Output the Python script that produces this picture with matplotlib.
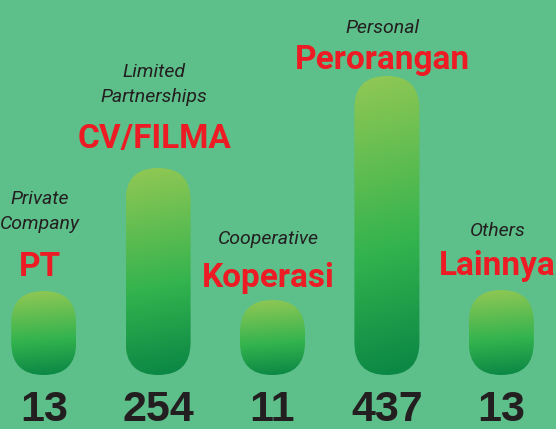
import numpy as np
import matplotlib
matplotlib.use('Agg')
import matplotlib.pyplot as plt
from matplotlib.patches import FancyBboxPatch
from matplotlib.colors import LinearSegmentedColormap

# %% Data read off the infographic
names_id = ['PT', 'CV/FILMA', 'Koperasi', 'Perorangan', 'Lainnya']
names_en = ['Private\nCompany', 'Limited\nPartnerships', 'Cooperative', 'Personal', 'Others']
counts = [13, 254, 11, 437, 13]
# drawn pill lengths (the picture is not to scale)
bar_len = [84, 207, 75, 299, 85]

# %% Layout / styles
# gap (px) between pill top and red label baseline, and red -> italic baseline
gap_red = [15, 20, 13, 7, 15]
gap_en = [47, 46, 43, 36, 39]

bg = '#5dbf8a'
red = '#ed1c24'
ink = '#231f20'
label_font = ['Roboto', 'DejaVu Sans']
num_font = ['Liberation Sans', 'DejaVu Sans']
pill_cmap = LinearSegmentedColormap.from_list(
    'pill', [(0.0, '#0c8845'), (0.42, '#33b34e'), (1.0, '#8dc754')])

W, H = 556, 429
fig = plt.figure(figsize=(W/100, H/100), dpi=100, facecolor=bg)
ax = fig.add_axes([0, 0, 1, 1])
ax.set_facecolor(bg)

# one category step is ~114 px, y units are pixels with the pill bottoms at 0
step = 114.4
x0 = 43.7
xs = np.arange(len(counts))
bw = 65/step                 # pill width in category units
aspect = step/1.0            # px per x unit / px per y unit

# gradient image, light at the top, slightly tilted
gy, gx = np.mgrid[0:1:200j, 0:1:40j]
grad = gy - 0.06*(gx - 0.5)

for i, x in enumerate(xs):
    h = bar_len[i]
    pill = FancyBboxPatch((x - bw/2, 0), bw, h,
                          boxstyle='round,pad=0,rounding_size=%f' % (bw/2),
                          mutation_aspect=aspect, fc='none', lw=0)
    ax.add_patch(pill)
    im = ax.imshow(grad, extent=(x - bw/2, x + bw/2, 0, h), origin='lower',
                   aspect='auto', cmap=pill_cmap, vmin=0, vmax=1, zorder=2)
    im.set_clip_path(pill)

    # labels above the pill
    lx = x - 4/step
    yb = h + gap_red[i]
    ax.text(lx, yb, names_id[i], ha='center', va='baseline', color=red,
            fontsize=24, fontweight='bold', family=label_font, zorder=3)
    lines = names_en[i].split('\n')
    for k, ln in enumerate(reversed(lines)):
        ax.text(lx, yb + gap_en[i] + 25*k, ln, ha='center', va='baseline',
                color=ink, fontsize=14, fontstyle='italic', family=label_font,
                zorder=3)

    # counts at the bottom
    ax.text(x, -46, str(counts[i]), ha='center', va='baseline', color=ink,
            fontsize=31, fontweight='bold', family=num_font, zorder=3)

ax.set_xlim(-x0/step, (W - x0)/step)
ax.set_ylim(-54, H - 54)
ax.axis('off')

fig.savefig('out.png', dpi=100, facecolor=bg)
